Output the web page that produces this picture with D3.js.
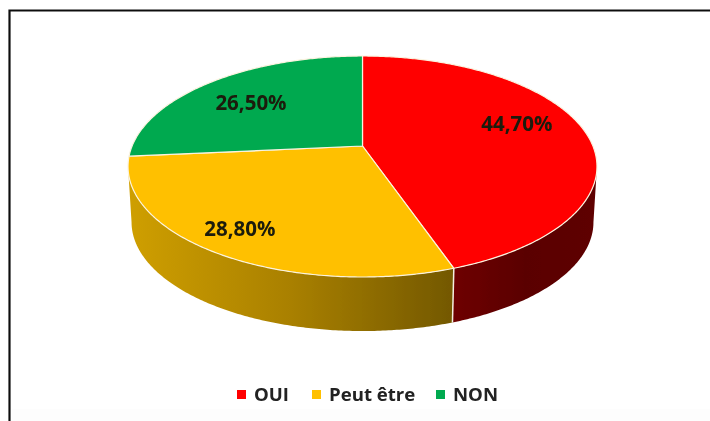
<!DOCTYPE html>
<html>
<head>
<meta charset="utf-8">
<script src="https://cdn.jsdelivr.net/npm/d3@7"></script>
<style>
html, body { margin: 0; padding: 0; background: #fff; }
svg { display: block; }
text { font-family: "Open Sans", sans-serif; font-weight: 700; }
</style>
</head>
<body>
<svg width="710" height="421"></svg>
<script>
var categories = ['OUI', 'Peut être', 'NON']
var values = [44.7, 28.8, 26.5]
var value_labels = ['44,70%', '28,80%', '26,50%']
var colors = ['#ff0000', '#ffc000', '#00a94f']

// side shading per slice, left to right
var side_colors = [['#6e0000', '#5a0000', '#5e0000'], ['#cf9f00', '#a98000', '#735800'], ['#00803a', '#00803a', '#00803a']]

var svg = d3.select('svg')
var soft = svg.append('defs').append('filter')
    .attr('id', 'soft')
    .attr('x', 0).attr('y', 0).attr('width', 1).attr('height', 1)
soft.append('feGaussianBlur').attr('stdDeviation', 0.7)

var root = svg.append('g').attr('filter', 'url(#soft)')

root.append('rect').attr('width', 710).attr('height', 421).attr('fill', '#fff')
root.append('rect').attr('x', 12).attr('y', 409).attr('width', 698).attr('height', 12).attr('fill', '#fdfdfd')

// frame, only top and left show
root.append('path')
    .attr('d', 'M9.5,421V10.5H710')
    .attr('fill', 'none')
    .attr('stroke', '#111')
    .attr('stroke-width', 2.2)

// the pie is seen in perspective, so the centre is not the middle of the ellipse
var cx = 362.5, cy = 146, rx = 230.4, ry = 106.7, persp = 0.1855
var depth = 56, shrink = 0.985

function project(angle, scale, dy) {
    var u = Math.sin(angle)
    var v = -Math.cos(angle)
    var w = 1 - persp * v
    return [cx + scale * rx * u / w, cy + dy + scale * ry * v / w]
}

var pie = d3.pie().sort(null).value(function(d){ return d })
var arcs = pie(values)
var line = d3.line()

function arcPoints(a0, a1, scale, dy) {
    var n = Math.max(2, Math.ceil((a1 - a0) / 0.01))
    var to_angle = d3.scaleLinear().domain([0, n]).range([a0, a1])
    return d3.range(n + 1).map(function(i){ return project(to_angle(i), scale, dy) })
}

// side wall only shows on the front of the pie
var front_start = Math.acos(-persp)
var front_end = 2 * Math.PI - front_start
var defs = svg.select('defs')

arcs.forEach(function(d, i){
    var a0 = Math.max(d.startAngle, front_start)
    var a1 = Math.min(d.endAngle, front_end)
    if (a1 <= a0) return
    var top = arcPoints(a0, a1, 1, 0)
    var bottom = arcPoints(a0, a1, shrink, depth)
    var xs = top.map(function(p){ return p[0] })
    var grad = defs.append('linearGradient')
        .attr('id', 'side' + i)
        .attr('gradientUnits', 'userSpaceOnUse')
        .attr('x1', d3.min(xs)).attr('x2', d3.max(xs))
        .attr('y1', 0).attr('y2', 0)
    side_colors[i].forEach(function(c, j){
        grad.append('stop').attr('offset', j / 2).attr('stop-color', c)
    })
    root.append('path')
        .attr('d', line(top.concat(bottom.reverse())) + 'Z')
        .attr('fill', 'url(#side' + i + ')')
})

// white edge between the front walls
arcs.forEach(function(d){
    if (d.startAngle > front_start && d.startAngle < front_end) {
        root.append('path')
            .attr('d', line([project(d.startAngle, 1, 0), project(d.startAngle, shrink, depth)]))
            .attr('stroke', '#f4efe0')
            .attr('stroke-width', 1.5)
            .attr('fill', 'none')
    }
})

root.selectAll('path.slice')
    .data(arcs)
    .enter()
    .append('path')
    .attr('class', 'slice')
    .attr('d', function(d){
        return line([[cx, cy]].concat(arcPoints(d.startAngle, d.endAngle, 1, 0))) + 'Z'
    })
    .attr('fill', function(d, i){ return colors[i] })
    .attr('stroke', '#fbf3df')
    .attr('stroke-width', 1.2)
    .attr('stroke-linejoin', 'round')

// labels sit along each slice's mid angle, nudged to where the original has them
var label_radius = [0.70, 0.83, 0.736]
var label_nudge = [-8, -4, 6]
arcs.forEach(function(d, i){
    var mid = (d.startAngle + d.endAngle) / 2
    var p = project(mid, label_radius[i], label_nudge[i])
    root.append('text')
        .text(value_labels[i])
        .attr('x', p[0])
        .attr('y', p[1])
        .attr('text-anchor', 'middle')
        .attr('dominant-baseline', 'middle')
        .attr('font-size', 20.5)
        .attr('fill', '#1a1a0a')
})

// legend
var legend_x = [237, 312, 436]
var legend_group = root.append('g')
categories.forEach(function(c, i){
    legend_group.append('rect')
        .attr('x', legend_x[i])
        .attr('y', 390)
        .attr('width', 9)
        .attr('height', 9)
        .attr('fill', colors[i])
    legend_group.append('text')
        .text(c)
        .attr('x', legend_x[i] + 17)
        .attr('y', 401)
        .attr('font-size', 18.6)
        .attr('fill', '#222')
})
</script>
</body>
</html>
